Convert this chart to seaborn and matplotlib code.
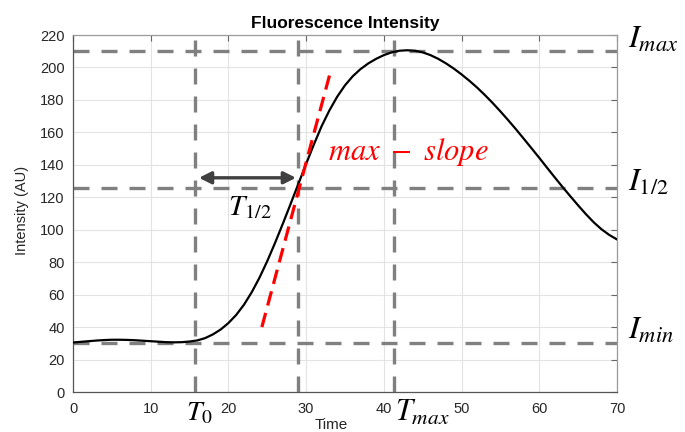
import matplotlib
matplotlib.use("Agg")
import matplotlib.pyplot as plt
import seaborn as sns
import pandas as pd

# ---- data ----
time = list(range(0, 71))
intensity = [30.5, 30.9, 31.3, 31.7, 32.0, 32.2, 32.2, 32.1, 31.9, 31.6,
             31.3, 31.0, 30.7, 30.6, 30.7, 31.1, 31.8, 33.2, 35.5, 38.5,
             42.5, 47.5, 53.8, 61.5, 70.5, 80.7, 91.9, 103.7, 115.9, 128.3,
             140.6, 152.6, 163.9, 173.6, 182.0, 189.0, 194.6, 199.0, 202.5, 205.3,
             207.6, 209.3, 210.3, 210.6, 210.3, 209.3, 207.6, 205.3, 202.5, 199.3,
             195.7, 191.8, 187.6, 183.0, 178.1, 172.9, 167.5, 161.9, 156.1, 150.2,
             144.3, 138.2, 132.2, 126.3, 120.6, 115.0, 109.6, 104.6, 100.3, 96.8,
             94.0]
slope_t = [24.3, 33.0]
slope_v = [40.0, 195.0]
h_levels = [210.0, 125.5, 30.5]       # I_max, I_1/2, I_min
v_levels = [15.7, 29.0, 41.3]         # T_0, T_1/2, T_max
arrow_t = [16.2, 28.7]
arrow_v = 132.0
x_ticks = [0, 10, 20, 30, 40, 50, 60, 70]
y_ticks = list(range(0, 221, 20))

df = pd.DataFrame({"Time": time, "Intensity": intensity})
df_slope = pd.DataFrame({"Time": slope_t, "Intensity": slope_v})

sns.set_theme(style="whitegrid")
plt.rcParams["font.family"] = ["Liberation Sans", "DejaVu Sans"]
plt.rcParams["mathtext.fontset"] = "stix"

W, H = 685, 432
fig = plt.figure(figsize=(W / 100, H / 100), dpi=100)
ax = fig.add_axes([73 / W, 40 / H, 544 / W, 357 / H])
ax.set_facecolor("white")

ax.set_xlim(0, 70)
ax.set_ylim(0, 220)
ax.set_xticks(x_ticks)
ax.set_yticks(y_ticks)
ax.grid(True, color="#e3e3e3", linewidth=0.8)
ax.set_axisbelow(True)

for s in ["left", "bottom"]:
    ax.spines[s].set_color("#555555")
    ax.spines[s].set_linewidth(0.9)
for s in ["top", "right"]:
    ax.spines[s].set_color("#9a9a9a")
    ax.spines[s].set_linewidth(0.9)
    ax.spines[s].set_visible(True)

ax.tick_params(axis="both", direction="in", length=4, width=0.8, color="#666666",
               labelsize=10.5, labelcolor="#262626", top=True, right=True)
ax.tick_params(axis="x", pad=7)
ax.tick_params(axis="y", pad=6)

# dashed helper lines
dash_kw = dict(color="#808080", linewidth=2.4, dashes=(4.8, 3.6), zorder=2)
for lv in h_levels:
    ax.axhline(lv, **dash_kw)
for tv in v_levels:
    ax.axvline(tv, **dash_kw)

# main curve
sns.lineplot(data=df, x="Time", y="Intensity", ax=ax, color="black",
             linewidth=1.6, zorder=4)

# max slope line
sns.lineplot(data=df_slope, x="Time", y="Intensity", ax=ax, color="#ff0000",
             linewidth=2.3, zorder=5)
ax.lines[-1].set_dashes((4.6, 2.4))

# double arrow
ax.annotate("", xy=(arrow_t[1], arrow_v), xytext=(arrow_t[0], arrow_v),
            arrowprops=dict(arrowstyle="<|-|>", color="#404040", lw=2.4,
                            mutation_scale=18, shrinkA=0, shrinkB=0), zorder=6)

# labels
ax.set_xlabel("")
ax.set_ylabel("")
ax.set_title("Fluorescence Intensity", fontsize=12.5, fontweight="bold",
             color="black", pad=5)
fig.text(331 / W, (H - 429) / H, "Time", ha="center", va="baseline",
         fontsize=11, color="#262626")
fig.text(22 / W, (H - 210) / H, "Intensity (AU)", ha="center", va="center",
         rotation=90, fontsize=10.5, color="#262626")

# math annotations
mt = dict(ha="left", va="baseline", clip_on=False, zorder=7)
ax.text(32.8, 143, r"$max\ -\ slope$", color="#ff0000", fontsize=22, **mt)
ax.text(19.9, 109, r"$T_{1/2}$", color="black", fontsize=21, **mt)
ax.text(14.6, -17.5, r"$T_0$", color="black", fontsize=20, **mt)
ax.text(41.4, -18.0, r"$T_{max}$", color="black", fontsize=22, **mt)
ax.text(71.4, 212.0, r"$I_{max}$", color="black", fontsize=23, **mt)
ax.text(71.4, 123.8, r"$I_{1/2}$", color="black", fontsize=23, **mt)
ax.text(71.4, 33.0, r"$I_{min}$", color="black", fontsize=23, **mt)

fig.savefig("out.png", dpi=100)
